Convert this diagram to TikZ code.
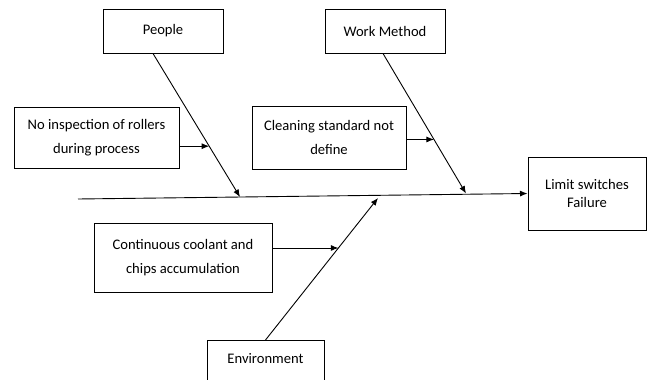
\documentclass[tikz,border=0pt]{standalone}
\usepackage{fontspec}
\setmainfont{Carlito}
\usetikzlibrary{arrows.meta,calc}
\begin{document}
\begin{tikzpicture}[x=1pt,y=-1pt,
  box/.style={draw=black,line width=1pt,rectangle,inner sep=0pt,align=center,
    font=\fontsize{14.6}{24.5}\selectfont},
  conn/.style={line width=0.9pt,draw=black},
  arr/.style={conn,-{Latex[length=7.5pt,width=6pt]}}]
\useasboundingbox (0,0) rectangle (651,380);
\clip (0,0) rectangle (651,380);
\node[box,minimum width=120pt,minimum height=44pt] (people) at (163,31) {People};
\node[box,minimum width=120pt,minimum height=44pt] (work) at (385,31) {Work Method};
\node[box,minimum width=165pt,minimum height=61pt] (noinsp) at (96.5,137.5) {No inspection of rollers\\during process};
\node[box,minimum width=154pt,minimum height=63pt] (clean) at (329,137.5) {Cleaning standard not\\define};
\node[box,minimum width=118pt,minimum height=73pt,font=\fontsize{14.6}{18}\selectfont] (limit) at (587,193.5) {Limit switches\\Failure};
\node[box,minimum width=178pt,minimum height=69pt] (cont) at (183,257.5) {Continuous coolant and\\chips accumulation};
\node[box,minimum width=117pt,minimum height=60pt,anchor=north] (env) at (265.5,340) {};
\node[font=\fontsize{14.6}{16}\selectfont,inner sep=0pt] (envtext) at ([yshift=-19pt]env.north) {Environment};
% spine
\coordinate (tail) at (78,199);
\draw[arr] (tail) -- (limit.west);
% branch ends on spine
\coordinate (pE) at (240,197);
\coordinate (wE) at (466,193.5);
\coordinate (eE) at (378,198);
\coordinate (pS) at ([xshift=-10pt]people.south);
\coordinate (wS) at ([xshift=-2pt]work.south);
\draw[arr] (pS) -- (pE);
\draw[arr] (wS) -- (wE);
\draw[arr] (env.north) -- (eE);
% cause points on branches
\coordinate (q1) at ($(pS)!0.646!(pE)$);
\coordinate (q2) at ($(wS)!0.614!(wE)$);
\coordinate (q3) at ($(env.north)!0.648!(eE)$);
\draw[arr] (noinsp.east |- q1) -- (q1);
\draw[arr] (clean.east |- q2) -- (q2);
\draw[arr] (cont.east |- q3) -- (q3);
\end{tikzpicture}
\end{document}
